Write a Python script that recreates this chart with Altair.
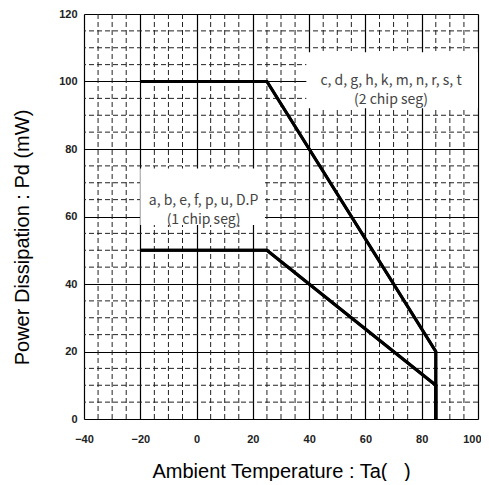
import altair as alt
import pandas as pd

# ---- data ----
temp_2chip = [-20, 25, 85, 85]
pd_2chip = [100, 100, 20, 0]
temp_1chip = [-20, 25, 85, 85]
pd_1chip = [50, 50, 10, 0]

x_major = [-40, -20, 0, 20, 40, 60, 80, 100]
y_major = [0, 20, 40, 60, 80, 100, 120]
x_minor = [v for v in range(-40, 101, 5) if v % 20 != 0]
y_minor = [v for v in range(0, 121, 5) if v % 20 != 0]

box_x = [-20, 39]
box_x2 = [24.3, 100]
box_y = [57.5, 92.1]
box_y2 = [74.2, 108.7]
box_tx = [2.5, 69.1]
box_ty = [64.6, 100.1]
box_text = [["a, b, e, f, p, u, D.P", "(1 chip seg)"],
            ["c, d, g, h, k, m, n, r, s, t", "(2 chip seg)"]]

lines = pd.DataFrame({
    "t": temp_2chip + temp_1chip,
    "p": pd_2chip + pd_1chip,
    "s": ["2 chip"] * len(temp_2chip) + ["1 chip"] * len(temp_1chip),
    "o": list(range(len(temp_2chip))) + list(range(len(temp_1chip))),
})
boxes = pd.DataFrame({"x": box_x, "x2": box_x2, "y": box_y, "y2": box_y2,
                      "tx": box_tx, "ty": box_ty, "label": box_text})

xs = alt.Scale(domain=[-40, 100], nice=False, zero=False)
ys = alt.Scale(domain=[0, 120], nice=False)

tick_font = "Liberation Sans Narrow, Arial Narrow, Liberation Sans, Arial, sans-serif"
title_font = "Liberation Sans, Arial, Helvetica, sans-serif"

x_axis = alt.Axis(values=x_major, grid=True, gridColor="black", gridWidth=1.2,
                  gridOpacity=1, ticks=False, domain=False,
                  labelFont=tick_font, labelFontWeight="bold", labelFontSize=11,
                  labelColor="#222", labelPadding=14, labelBaseline="top",
                  labelAlign=alt.expr("datum.value == 100 ? 'right' : 'center'"),
                  labelOffset=alt.expr("datum.value == 100 ? 3 : 0"),
                  title="Ambient Temperature : Ta(\u00a0\u00a0\u00a0)", titleFont=title_font,
                  titleFontSize=20, titleFontWeight="normal", titleColor="black",
                  titleX=68, titleY=58, titleAlign="left", titleBaseline="alphabetic",
                  labelFlush=False)
y_axis = alt.Axis(values=y_major, grid=True, gridColor="black", gridWidth=1.2,
                  gridOpacity=1, ticks=False, domain=False,
                  labelFont=tick_font, labelFontWeight="bold", labelFontSize=11,
                  labelColor="#222", labelPadding=7,
                  title="Power Dissipation : Pd (mW)", titleFont=title_font,
                  titleFontSize=20, titleFontWeight="normal", titleColor="black",
                  titleX=-56, titleY=223, titleAngle=270, titleAlign="center",
                  titleBaseline="alphabetic", labelFlush=False)

base_line = alt.Chart(lines).mark_line(color="black", strokeWidth=3).encode(
    x=alt.X("t:Q", scale=xs, axis=x_axis),
    y=alt.Y("p:Q", scale=ys, axis=y_axis),
    detail="s:N",
    order="o:O",
)

minor_x = alt.Chart(pd.DataFrame({"v": x_minor})).mark_rule(
    color="#222", strokeWidth=1, strokeDash=[5, 3]).encode(x=alt.X("v:Q", scale=xs))
minor_y = alt.Chart(pd.DataFrame({"v": y_minor})).mark_rule(
    color="#222", strokeWidth=1, strokeDash=[5, 3]).encode(y=alt.Y("v:Q", scale=ys))

rects = alt.Chart(boxes).mark_rect(color="white").encode(
    x=alt.X("x:Q", scale=xs), x2="x2", y=alt.Y("y:Q", scale=ys), y2="y2")

texts = alt.Chart(boxes).mark_text(
    font="Noto Sans CJK JP", fontSize=14, color="#444", lineHeight=19,
    align="center", baseline="middle").encode(
    x=alt.X("tx:Q", scale=xs), y=alt.Y("ty:Q", scale=ys), text="label")

chart = alt.layer(minor_x, minor_y, base_line, rects, texts, base_line).properties(
    width=394, height=405,
    autosize=alt.AutoSizeParams(type="none"),
    padding={"left": 76, "top": 6, "right": 3, "bottom": 62},
).configure_view(stroke="black", strokeWidth=1.5).configure(background="white")

chart.save("out.html", embed_options={"renderer": "svg", "actions": False})
